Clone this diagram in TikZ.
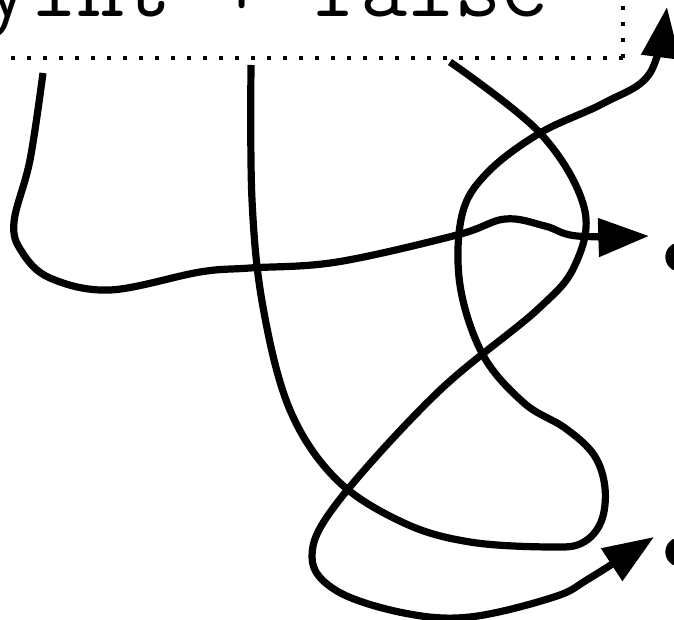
\documentclass[tikz,border=0pt]{standalone}
\usetikzlibrary{arrows.meta}
\begin{document}
\begin{tikzpicture}[x=0.75pt,y=-0.75pt,
  conn/.style={line width=5.4pt, -{Triangle[length=38pt,width=28pt]}, line join=round},
  frame/.style={line width=3pt, dash pattern=on 3pt off 9pt},
  dotnode/.style={circle, fill=black, minimum size=22pt, inner sep=0pt}]
\useasboundingbox (0,0) rectangle (674,620);
\clip (0,0) rectangle (674,620);
% expression box
\node[anchor=base west, inner sep=0pt, font=\ttfamily\fontsize{68.6pt}{70pt}\selectfont] (expr) at (-17,17) {yint + false};
\draw[frame] (623,58) -- (-40,58);
\draw[frame] (623,58) -- (623,-40);
% targets
\node[dotnode] (d1) at (680,257) {};
\node[dotnode] (d2) at (680,552) {};
% connector endpoints
\coordinate (a1) at (43,73);
\coordinate (a2) at (649,236);
\coordinate (b1) at (251,65);
\coordinate (b2) at (667,7);
\coordinate (c1) at (450,62);
\coordinate (c2) at (654,537);
% connector A
\draw[conn] plot[smooth, tension=0.6] coordinates {(a1) (30,160) (14,222) (22,252) (50,278) (110,290) (200,272) (250,268) (337,262) (457,235) (505,219) (545,226) (577,236) (a2)};
% connector B
\draw[conn] plot[smooth, tension=0.6] coordinates {(b1) (252,200) (263,307) (290,410) (337,480) (404,523) (470,542) (550,547) (582,543) (601,522) (605,488) (594,455) (565,428) (524,403) (483,355) (460,285) (462,215) (487,173) (540,133) (604,103) (650,73) (b2)};
% connector C
\draw[conn] plot[smooth, tension=0.6] coordinates {(c1) (540,133) (584,207) (575,265) (537,310) (437,393) (337,503) (312,557) (337,591) (404,613) (470,617) (554,597) (590,578) (c2)};
\end{tikzpicture}
\end{document}
